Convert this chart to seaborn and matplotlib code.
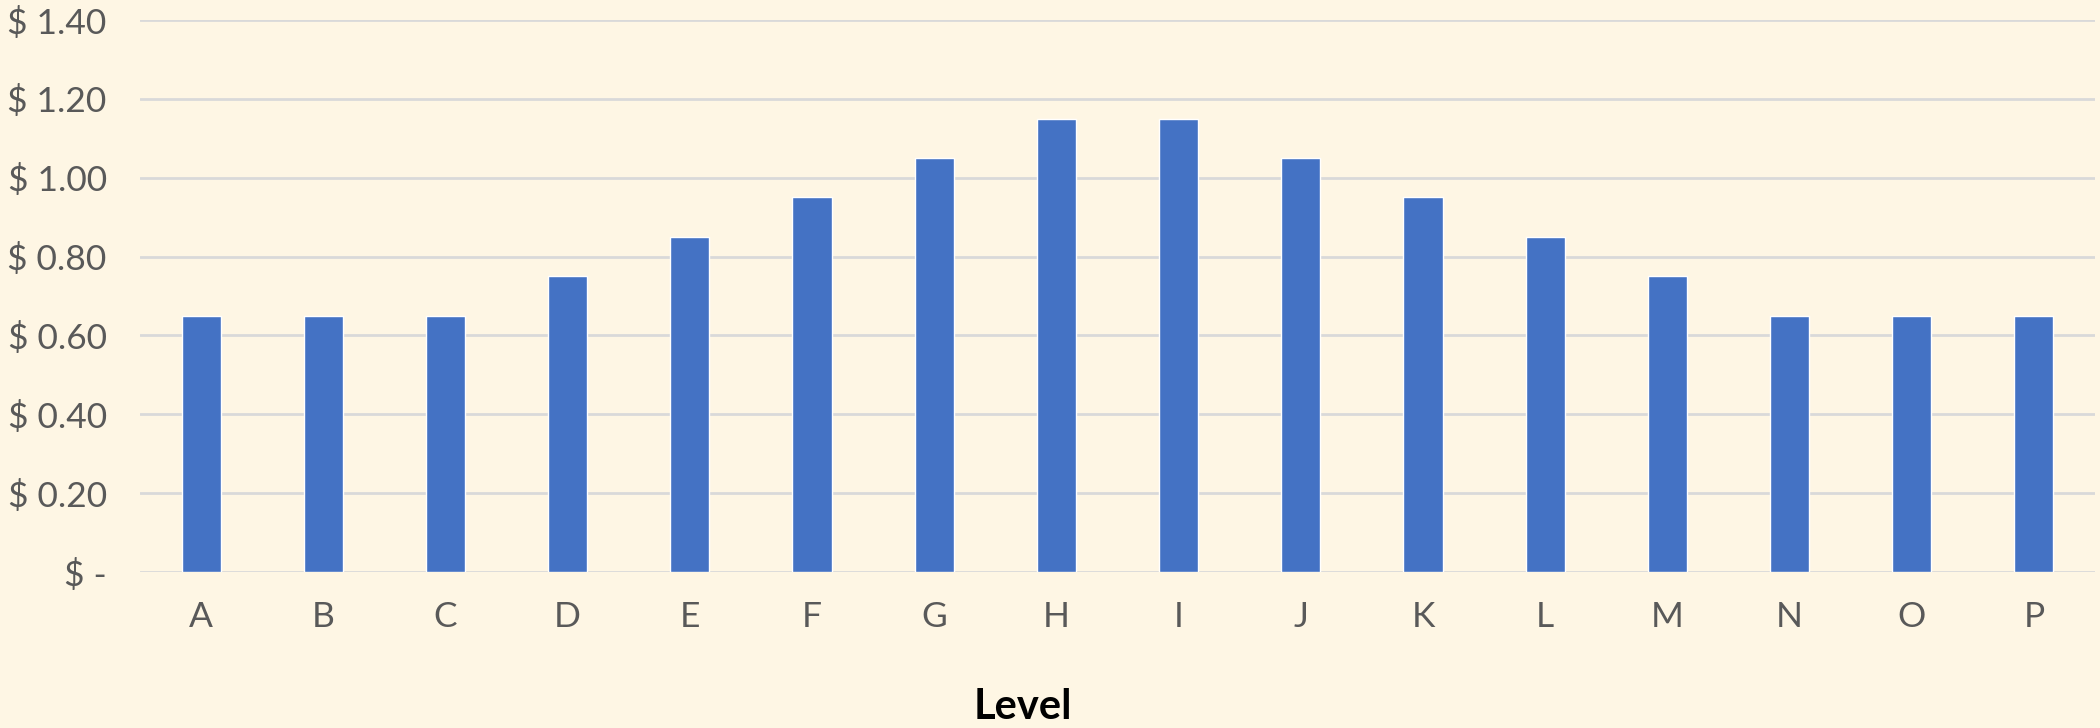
import matplotlib
matplotlib.use("Agg")
import matplotlib.pyplot as plt
import seaborn as sns
import pandas as pd

levels = list("ABCDEFGHIJKLMNOP")
prices = [0.65, 0.65, 0.65, 0.75, 0.85, 0.95, 1.05, 1.15,
          1.15, 1.05, 0.95, 0.85, 0.75, 0.65, 0.65, 0.65]
y_ticks = [0.0, 0.2, 0.4, 0.6, 0.8, 1.0, 1.2, 1.4]
y_labels = ["$ -", "$ 0.20", "$ 0.40", "$ 0.60", "$ 0.80", "$ 1.00", "$ 1.20", "$ 1.40"]

bg = "#FEF6E4"
bar_color = "#4472C4"
text_color = "#595959"
grid_color = "#D9D9D9"

sns.set_theme(style="white")
plt.rcParams["font.family"] = ["Lato", "DejaVu Sans"]

W, H, DPI = 2100, 728, 100
fig = plt.figure(figsize=(W / DPI, H / DPI), dpi=DPI, facecolor=bg)
left, right, top, bottom = 140, 2095, 20, 572
ax = fig.add_axes([left / W, 1 - bottom / H, (right - left) / W, (bottom - top) / H])
ax.set_facecolor(bg)

df = pd.DataFrame({"Level": levels, "Price": prices})
sns.barplot(data=df, x="Level", y="Price", color=bar_color, saturation=1,
            width=0.32, ax=ax, zorder=3)

ax.set_ylim(0, 1.4)
ax.set_xlim(-0.5, len(levels) - 0.5)
ax.set_yticks(y_ticks)
ax.set_yticklabels(y_labels)
ax.yaxis.grid(True, color=grid_color, linewidth=2, zorder=0)
ax.set_axisbelow(True)
for s in ax.spines.values():
    s.set_visible(False)
ax.tick_params(axis="both", length=0, colors=text_color, labelsize=25.5)
ax.tick_params(axis="y", pad=24)
ax.tick_params(axis="x", pad=21)
ax.set_ylabel("")
ax.set_xlabel("")

fig.text(1023 / W, 1 - 719 / H, "Level", ha="center", va="baseline",
         fontsize=30, fontweight="bold", color="black")

fig.savefig("out.png", dpi=DPI, facecolor=bg)
